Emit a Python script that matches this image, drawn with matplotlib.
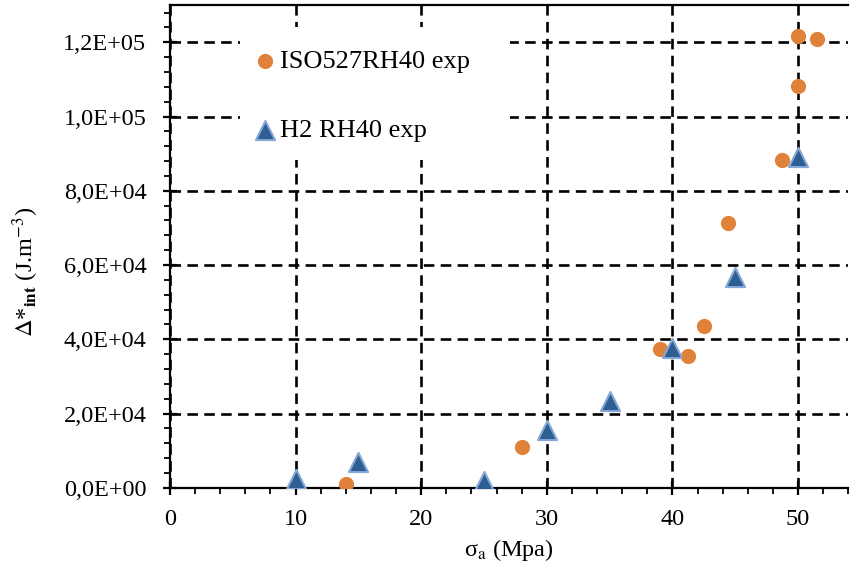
import matplotlib.pyplot as plt
from matplotlib.patches import Rectangle
from matplotlib.ticker import MultipleLocator, FuncFormatter

plt.rcParams['font.family'] = 'Liberation Serif'
plt.rcParams['mathtext.fontset'] = 'stix'

# ISO527RH40 exp
iso_x = [14, 28, 39, 41.2, 42.5, 44.4, 48.7, 50, 50, 51.5]
iso_y = [1100, 11000, 37500, 35400, 43700, 71200, 88200, 108100, 121800, 120900]

# H2 RH40 exp
h2_x = [10, 15, 25, 30, 35, 40, 45, 50]
h2_y = [2400, 7000, 1900, 15600, 23400, 37700, 56700, 89200]

fig = plt.figure(figsize=(8.5, 5.66), dpi=100)
ax = fig.add_axes([0.2, 0.138, 0.798, 0.853])

ax.scatter(iso_x, iso_y, s=120, c='#E0823A', marker='o', linewidths=0,
           label='ISO527RH40 exp', zorder=3)
ax.scatter(h2_x, h2_y, s=190, c='#2F5E93', marker='^', edgecolors='#86A8D6',
           linewidths=1.5, label='H2 RH40 exp', zorder=3)

ax.set_xlim(0, 54)
ax.set_ylim(0, 130000)
ax.xaxis.set_major_locator(MultipleLocator(10))
ax.xaxis.set_minor_locator(MultipleLocator(2))
ax.yaxis.set_major_locator(MultipleLocator(20000))
ax.yaxis.set_minor_locator(MultipleLocator(4000))
ax.yaxis.set_major_formatter(FuncFormatter(lambda v, p: ('%.1E' % v).replace('.', ',')))

ax.grid(which='major', color='black', ls=(0, (4, 2.4)), lw=1.9)
ax.set_axisbelow(True)

ax.spines['right'].set_visible(False)
for s in ['left', 'bottom', 'top']:
    ax.spines[s].set_linewidth(1.6)

ax.tick_params(which='major', direction='inout', length=10, width=1.6, labelsize=17.5)
ax.tick_params(which='minor', direction='out', length=4, width=1.3)
ax.tick_params(axis='x', which='major', pad=10)
ax.tick_params(axis='y', which='major', pad=12)

ax.set_xlabel(r'σ$_\mathrm{a}$ (Mpa)', fontsize=17.5, labelpad=5)
ax.set_ylabel(r'$\Delta$*$_{\mathbf{int}}$ (J.m$^{-3}$)', fontsize=17.5)
ax.yaxis.set_label_coords(-0.19, 0.447)

# white legend area hides the grid
ax.add_patch(Rectangle((0.103, 0.679), 0.398, 0.275, transform=ax.transAxes,
                       facecolor='white', edgecolor='none', zorder=2))
ax.legend(loc='upper left', bbox_to_anchor=(0.124, 0.908), fontsize=19,
          frameon=False, labelspacing=1.72, handletextpad=0.2,
          borderpad=0, borderaxespad=0, handlelength=0.8)

fig.savefig('out.png', dpi=100)
